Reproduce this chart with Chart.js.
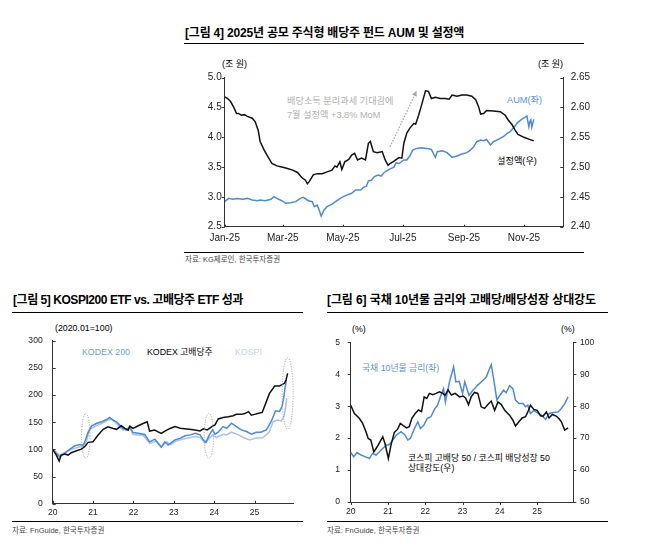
<!DOCTYPE html>
<html lang="ko">
<head>
<meta charset="utf-8">
<title>배당주 펀드 AUM / ETF 성과 / 상대강도</title>
<script src="https://cdn.jsdelivr.net/npm/chart.js@4.4.1/dist/chart.umd.min.js"></script>
<style>
    body { margin: 0; background: #fff; }
    #page {
        position: relative; width: 653px; height: 552px; overflow: hidden;
        font-family: "Liberation Sans", "Noto Sans CJK KR", sans-serif; color: #000;
    }
    .t { position: absolute; white-space: nowrap; line-height: 1; }
    .title { font-weight: bold; font-size: 12px; letter-spacing: -0.2px; }
    .rule { position: absolute; height: 0; border-top: 1.5px solid #000; }
    .rule.thin { border-top-width: 1px; }
    .src { font-size: 7.5px; color: #444; }
    canvas { position: absolute; }
</style>
</head>
<body>
<div id="page">
    <!-- 그림 4 -->
    <div class="t title" style="left:185px; top:27px;">[그림 4] 2025년 공모 주식형 배당주 펀드 AUM 및 설정액</div>
    <div class="rule" style="left:184px; width:400px; top:43px;"></div>
    <div class="t" style="left:222px; top:60px; font-size:9px;">(조 원)</div>
    <div class="t" style="left:538px; top:60px; font-size:9px;">(조 원)</div>
    <div class="t" style="left:287px; top:97px; font-size:9.2px; color:#b0b0b0;">배당소득 분리과세 기대감에</div>
    <div class="t" style="left:287px; top:111px; font-size:9.2px; color:#b0b0b0;">7월 설정액 +3.8% MoM</div>
    <div class="t" style="left:507px; top:95.5px; font-size:9.2px; color:#5b93d6;">AUM(좌)</div>
    <div class="t" style="left:497px; top:157px; font-size:9.2px;">설정액(우)</div>
    <div class="rule thin" style="left:184px; width:400px; top:252px;"></div>
    <div class="t src" style="left:185px; top:256px;">자료: KG제로인, 한국투자증권</div>
    <canvas id="fundChart" width="420" height="180" style="left:180px; top:70px;"></canvas>

    <!-- 그림 5 -->
    <div class="t title" style="left:13px; top:294px; letter-spacing:-0.45px;">[그림 5] KOSPI200 ETF vs. 고배당주 ETF 성과</div>
    <div class="rule" style="left:12px; width:291px; top:312px;"></div>
    <div class="t" style="left:55px; top:324px; font-size:8.8px;">(2020.01=100)</div>
    <div class="t" style="left:82px; top:348px; font-size:8.8px; color:#6e9fdc;">KODEX 200</div>
    <div class="t" style="left:147px; top:348px; font-size:8.8px;">KODEX 고배당주</div>
    <div class="t" style="left:235px; top:348px; font-size:8.8px; color:#c2d4ef;">KOSPI</div>
    <div class="rule thin" style="left:12px; width:291px; top:521px;"></div>
    <div class="t src" style="left:12px; top:527px;">자료: FnGuide, 한국투자증권</div>
    <canvas id="etfChart" width="310" height="200" style="left:0px; top:320px;"></canvas>

    <!-- 그림 6 -->
    <div class="t title" style="left:327px; top:294px; letter-spacing:-0.1px;">[그림 6] 국채 10년물 금리와 고배당/배당성장 상대강도</div>
    <div class="rule" style="left:327px; width:281px; top:312px;"></div>
    <div class="t" style="left:352px; top:325px; font-size:8.8px;">(%)</div>
    <div class="t" style="left:561px; top:325px; font-size:8.8px;">(%)</div>
    <div class="t" style="left:362px; top:364px; font-size:8.8px; color:#5b93d6;">국채 10년물 금리(좌)</div>
    <div class="t" style="left:408px; top:454px; font-size:8.8px;">코스피 고배당 50 / 코스피 배당성장 50</div>
    <div class="t" style="left:408px; top:464px; font-size:8.8px;">상대강도(우)</div>
    <div class="rule thin" style="left:327px; width:281px; top:521px;"></div>
    <div class="t src" style="left:327px; top:527px;">자료: FnGuide, 한국투자증권</div>
    <canvas id="rateChart" width="290" height="200" style="left:315px; top:320px;"></canvas>
</div>

<script>
// ---- 그림 4 : 2025년 일자 (1월 1일 = 0) ----
const monthTickDays = [0, 59, 120, 181, 243, 304];
const monthTickLabels = ['Jan-25', 'Mar-25', 'May-25', 'Jul-25', 'Sep-25', 'Nov-25'];
const aumTicks = [2.5, 3.0, 3.5, 4.0, 4.5, 5.0];
const flowTicks = [2.40, 2.45, 2.50, 2.55, 2.60, 2.65];

// 설정액 (우, 조 원)
const flowDays = [0,3,6,9,12,14,17,20,23,28,31,34,36,40,43,48,53,58,63,69,74,78,82,84,86,90,94,99,104,109,112,114,117,119,122,126,129,132,135,139,143,146,148,151,155,160,163,166,168,172,177,180,182,185,188,192,194,197,200,204,207,210,214,219,224,228,231,236,241,246,251,255,258,260,263,266,273,280,285,288,292,295,298,304,309,314];
const flowValues = [2.618,2.615,2.610,2.601,2.590,2.590,2.587,2.588,2.585,2.582,2.576,2.562,2.543,2.529,2.520,2.506,2.502,2.500,2.498,2.495,2.491,2.483,2.478,2.472,2.476,2.487,2.489,2.489,2.492,2.495,2.502,2.500,2.509,2.496,2.509,2.513,2.520,2.523,2.512,2.515,2.512,2.540,2.543,2.526,2.524,2.526,2.512,2.503,2.506,2.510,2.516,2.515,2.540,2.557,2.565,2.573,2.572,2.587,2.604,2.628,2.627,2.615,2.617,2.615,2.615,2.614,2.621,2.619,2.621,2.621,2.619,2.613,2.601,2.589,2.590,2.595,2.594,2.593,2.587,2.579,2.571,2.562,2.555,2.550,2.547,2.544];

// AUM (좌, 조 원)
const aumDays = [0,4,8,13,18,23,28,33,36,41,47,50,53,58,62,67,72,77,80,85,89,91,94,96,98,101,104,109,114,119,124,129,133,138,141,144,146,149,152,156,159,162,165,168,172,174,177,182,185,188,191,195,200,205,210,214,216,221,226,231,236,241,246,249,253,256,260,263,266,270,273,278,283,287,290,293,297,300,303,305,307,309,310,311,312,314];
const aumValues = [2.92,2.975,2.959,2.975,2.959,2.975,2.947,2.936,2.947,2.936,2.959,3.003,2.975,2.936,2.892,2.903,2.92,2.975,2.992,2.936,2.92,2.836,2.864,2.78,2.68,2.78,2.836,2.88,2.936,2.992,3.03,3.06,3.115,3.115,3.16,3.18,3.27,3.28,3.34,3.367,3.35,3.41,3.44,3.47,3.5,3.57,3.56,3.62,3.62,3.686,3.786,3.814,3.826,3.814,3.797,3.663,3.758,3.775,3.742,3.663,3.686,3.72,3.742,3.775,3.842,3.926,3.954,3.943,3.965,3.87,3.926,3.965,4.01,4.066,4.094,4.15,4.234,4.279,4.318,4.334,4.357,4.178,4.262,4.29,4.167,4.3];

// ---- 그림 5 / 6 : 2020년 1월 = 0 (년 단위) ----
const yearTickValues = [0, 1, 2, 3, 4, 5];
const yearTickLabels = ['20', '21', '22', '23', '24', '25'];
const etfTicks = [0, 50, 100, 150, 200, 250, 300];

const highDivYears = [0,0.09,0.16,0.21,0.30,0.38,0.46,0.59,0.71,0.79,0.88,1.0,1.12,1.25,1.37,1.50,1.58,1.70,1.79,1.87,1.91,1.99,2.12,2.24,2.34,2.40,2.53,2.61,2.69,2.78,2.86,2.92,3.03,3.16,3.32,3.49,3.65,3.73,3.83,3.94,4.02,4.10,4.22,4.35,4.47,4.55,4.67,4.76,4.85,4.92,5.0,5.08,5.19,5.29,5.37,5.50,5.62,5.74,5.78,5.82];
const highDivValues = [100,89.6,78.6,89.6,91.4,89.6,94,97.6,100.6,105,113,114,126,137,141.6,138.6,137,143.5,138.6,135.5,142.8,138.6,143.5,147.7,150.8,133.7,135.5,132.4,129.4,133.7,137,139,142,139,137.8,136,134,137.8,136,142,145,156,158.6,160,162,164.5,164.5,166,169.6,163,164.5,166,168,187.5,203,216.7,216.7,221.6,227.7,240];

const kodex200Years = [0,0.09,0.17,0.30,0.42,0.55,0.67,0.74,0.79,0.88,0.96,1.08,1.21,1.33,1.41,1.50,1.58,1.66,1.74,1.83,1.91,1.99,2.16,2.28,2.40,2.53,2.61,2.69,2.78,2.86,2.92,3.03,3.16,3.28,3.41,3.53,3.65,3.73,3.80,3.88,3.96,4.02,4.10,4.22,4.31,4.43,4.55,4.67,4.80,4.92,5.04,5.16,5.29,5.41,5.52,5.62,5.68,5.72,5.76,5.79];
const kodex200Values = [100,92.7,86.5,92.7,100,106.7,109,108,112.8,132,142.8,147.7,150.8,155,158.7,153.9,150.8,144.7,138.6,135.5,141.6,131,129.4,127.5,114,119,111,104,114,108,111.5,117.6,120.7,125,126.8,129.9,126.8,117.6,113.3,126.8,136,128,131.7,142,139,148.4,142,136,133,128,131.7,131.7,136,151,171,170,179,194,215.7,228];

const kospiYears = [0,0.17,0.42,0.67,0.75,0.83,0.92,1.08,1.21,1.37,1.45,1.58,1.74,1.91,1.99,2.24,2.40,2.57,2.69,2.82,2.92,3.03,3.16,3.41,3.53,3.65,3.77,3.88,3.96,4.06,4.22,4.31,4.43,4.60,4.72,4.88,5.00,5.21,5.36,5.46,5.58,5.66,5.74,5.80];
const kospiValues = [100,89.6,99,105,105,114,137,143.5,147.7,154,155.6,147.7,135.5,140,127.5,126,111,116,104.9,114,108.4,114.5,117.6,121.9,123.8,121.9,111.5,120.7,126.8,121.9,128,126.8,131.7,126.8,121.9,117.6,120.7,121.9,131.7,151,154,152,163,194];

const bondTicks = [0, 1, 2, 3, 4, 5];
const relTicks = [50, 60, 70, 80, 90, 100];

// 국채 10년물 금리 (좌, %)
const bondYears = [0,0.08,0.17,0.28,0.38,0.5,0.59,0.68,0.81,0.95,1.04,1.13,1.22,1.35,1.46,1.53,1.6,1.71,1.8,1.87,1.96,2.05,2.15,2.26,2.33,2.42,2.49,2.54,2.65,2.76,2.82,2.91,3.0,3.06,3.17,3.28,3.41,3.55,3.64,3.71,3.77,3.84,3.92,4.01,4.1,4.17,4.26,4.35,4.42,4.51,4.62,4.69,4.75,4.82,4.91,5.0,5.11,5.23,5.32,5.43,5.56,5.65,5.74,5.83];
const bondValues = [1.55,1.42,1.55,1.47,1.42,1.36,1.52,1.47,1.62,1.78,1.8,1.94,2.09,2.2,2.09,1.94,1.99,2.3,2.51,2.3,2.4,2.61,2.67,2.93,3.03,3.34,3.55,3.13,3.76,4.23,3.76,3.78,3.4,3.76,3.34,3.5,3.66,3.81,3.92,4.13,4.3,3.81,3.19,3.36,3.5,3.42,3.64,3.55,3.19,3.08,3.08,2.98,3.03,2.77,2.87,2.8,2.72,2.59,2.77,2.8,2.82,2.93,3.08,3.29];

// 고배당 50 / 배당성장 50 상대강도 (우, %)
const relYears = [0,0.1,0.23,0.32,0.41,0.47,0.54,0.62,0.71,0.81,0.86,0.92,1.01,1.08,1.17,1.26,1.33,1.41,1.5,1.57,1.64,1.73,1.82,1.9,1.97,2.04,2.11,2.2,2.29,2.38,2.47,2.53,2.61,2.7,2.8,2.92,3.01,3.08,3.16,3.23,3.32,3.41,3.5,3.59,3.68,3.77,3.86,3.95,4.04,4.13,4.26,4.35,4.42,4.51,4.6,4.69,4.75,4.82,4.91,5.0,5.09,5.16,5.25,5.32,5.41,5.51,5.6,5.65,5.74,5.83];
const relValues = [80.3,77.7,76.2,74.6,72,69.9,69.4,65.7,67.3,69.4,70.4,68.3,63.6,67.8,71.8,72.8,74.6,73.9,73.2,73.6,76.2,77.7,78.8,78.3,82.9,82.4,84,83.6,84,84.5,84,83.4,85.1,83.5,84,82.9,83.2,82.6,80.5,82.9,84.3,84,79.8,79.3,80.5,81.6,78.7,81.3,80.5,78.7,77.2,75.6,73.8,75.1,76.3,76.7,78.2,80.3,79,78.7,77,76.9,78.2,76.3,77.4,76.9,75.9,75.1,72.5,73.2];

const FONT = '"Liberation Sans", "Noto Sans CJK KR", sans-serif';
const BLUE = '#4f8ad2';
const AXIS = '#333';

function points(xs, ys) {
    return xs.map((x, i) => ({ x: x, y: ys[i] }));
}

function line(data, color, axis, order) {
    return {
        data: data, yAxisID: axis, order: order,
        borderColor: color, borderWidth: 1.5,
        pointRadius: 0, tension: 0, fill: false
    };
}

// 축 하나: 고정 크기, 지정된 눈금만
function axis(opts) {
    return {
        type: 'linear',
        position: opts.position,
        min: opts.min, max: opts.max,
        grid: { display: false, drawTicks: false },
        border: { display: true, color: AXIS, width: 1 },
        afterBuildTicks: s => { s.ticks = opts.ticks.map(v => ({ value: v })); },
        afterFit: s => {
            if (opts.position === 'bottom') s.height = opts.size; else s.width = opts.size;
            // 라벨 여백 때문에 플롯 영역이 밀리지 않도록
            s.paddingTop = 0; s.paddingBottom = 0; s.paddingLeft = 0; s.paddingRight = 0;
        },
        ticks: {
            autoSkip: false, maxRotation: 0, padding: opts.padding,
            color: '#222', font: { family: FONT, size: opts.fontSize },
            callback: opts.label
        }
    };
}

// 눈금 표시 (양수 = 안쪽, 음수 = 바깥쪽)
function tickMarks(lengths) {
    return {
        id: 'tickMarks',
        afterDatasetsDraw(chart) {
            const ctx = chart.ctx;
            ctx.save();
            ctx.strokeStyle = AXIS;
            ctx.lineWidth = 1;
            Object.keys(lengths).forEach(id => {
                const s = chart.scales[id];
                const len = lengths[id];
                s.ticks.forEach(t => {
                    const p = Math.round(s.getPixelForValue(t.value)) + 0.5;
                    ctx.beginPath();
                    if (s.isHorizontal()) {
                        ctx.moveTo(p, s.top); ctx.lineTo(p, s.top - len);
                    } else if (s.position === 'left') {
                        ctx.moveTo(s.right, p); ctx.lineTo(s.right + len, p);
                    } else {
                        ctx.moveTo(s.left, p); ctx.lineTo(s.left - len, p);
                    }
                    ctx.stroke();
                });
            });
            ctx.restore();
        }
    };
}

function baseOptions(padding, scales) {
    return {
        responsive: false, animation: false,
        layout: { padding: padding },
        plugins: { legend: { display: false }, tooltip: { enabled: false } },
        scales: scales
    };
}

document.addEventListener('DOMContentLoaded', function () {

    // 그림 4: 점선 화살표
    const arrowNote = {
        id: 'arrowNote',
        afterDatasetsDraw(chart) {
            const x = chart.scales.x, y = chart.scales.y;
            const x0 = x.getPixelForValue(168), y0 = y.getPixelForValue(3.84);
            const x1 = x.getPixelForValue(195), y1 = y.getPixelForValue(4.78);
            const ang = Math.atan2(y1 - y0, x1 - x0);
            const ctx = chart.ctx;
            ctx.save();
            ctx.strokeStyle = '#a8a8a8';
            ctx.fillStyle = '#a8a8a8';
            ctx.lineWidth = 1.3;
            ctx.setLineDash([1.5, 1.5]);
            ctx.beginPath();
            ctx.moveTo(x0, y0);
            ctx.lineTo(x1 - 5 * Math.cos(ang), y1 - 5 * Math.sin(ang));
            ctx.stroke();
            ctx.setLineDash([]);
            ctx.beginPath();
            ctx.moveTo(x1, y1);
            ctx.lineTo(x1 - 6 * Math.cos(ang - 0.45), y1 - 6 * Math.sin(ang - 0.45));
            ctx.lineTo(x1 - 6 * Math.cos(ang + 0.45), y1 - 6 * Math.sin(ang + 0.45));
            ctx.closePath();
            ctx.fill();
            ctx.restore();
        }
    };

    new Chart(document.getElementById('fundChart'), {
        type: 'line',
        data: {
            datasets: [
                line(points(flowDays, flowValues), '#111', 'y1', 0),
                line(points(aumDays, aumValues), BLUE, 'y', 1)
            ]
        },
        options: baseOptions({ top: 7.7, left: 0, right: 0, bottom: 0 }, {
            x: axis({ position: 'bottom', min: 0, max: 344, ticks: monthTickDays, size: 23.3, padding: 5.6, fontSize: 10,
                label: v => monthTickLabels[monthTickDays.indexOf(v)] }),
            y: axis({ position: 'left', min: 2.5, max: 5.0, ticks: aumTicks, size: 44.7, padding: 3, fontSize: 10,
                label: v => v.toFixed(1) }),
            y1: axis({ position: 'right', min: 2.40, max: 2.65, ticks: flowTicks, size: 36.7, padding: 7.4, fontSize: 10,
                label: v => v.toFixed(2) })
        }),
        plugins: [tickMarks({ x: 2, y: -3, y1: 3 }), arrowNote]
    });

    // 그림 5: 점선 타원
    const ellipseNote = {
        id: 'ellipseNote',
        afterDatasetsDraw(chart) {
            const x = chart.scales.x, y = chart.scales.y;
            const ctx = chart.ctx;
            ctx.save();
            ctx.strokeStyle = '#9a9a9a';
            ctx.lineWidth = 1;
            ctx.setLineDash([1, 1.5]);
            [[0.82, 125, 4.2, 22.5], [3.87, 125, 4.7, 22.5], [5.82, 203, 5.5, 35.7]].forEach(e => {
                ctx.beginPath();
                ctx.ellipse(x.getPixelForValue(e[0]), y.getPixelForValue(e[1]), e[2], e[3], 0, 0, Math.PI * 2);
                ctx.stroke();
            });
            ctx.restore();
        }
    };

    new Chart(document.getElementById('etfChart'), {
        type: 'line',
        data: {
            datasets: [
                line(points(highDivYears, highDivValues), '#111', 'y', 0),
                line(points(kodex200Years, kodex200Values), BLUE, 'y', 1),
                line(points(kospiYears, kospiValues), '#a9c3ea', 'y', 2)
            ]
        },
        options: baseOptions({ top: 20.7, left: 0, right: 16.7, bottom: 0 }, {
            x: axis({ position: 'bottom', min: 0, max: 5.96, ticks: yearTickValues, size: 16.2, padding: 3.7, fontSize: 8.6,
                label: v => yearTickLabels[v] }),
            y: axis({ position: 'left', min: 0, max: 300, ticks: etfTicks, size: 52.7, padding: 10, fontSize: 8.6,
                label: v => String(v) })
        }),
        plugins: [tickMarks({ x: 3, y: 3 }), ellipseNote]
    });

    new Chart(document.getElementById('rateChart'), {
        type: 'line',
        data: {
            datasets: [
                line(points(relYears, relValues), '#111', 'y1', 0),
                line(points(bondYears, bondValues), BLUE, 'y', 1)
            ]
        },
        options: baseOptions({ top: 22.3, left: 0, right: 0, bottom: 0 }, {
            x: axis({ position: 'bottom', min: 0, max: 5.97, ticks: yearTickValues, size: 18, padding: 4.5, fontSize: 8.6,
                label: v => yearTickLabels[v] }),
            y: axis({ position: 'left', min: 0, max: 5, ticks: bondTicks, size: 35.7, padding: 10.7, fontSize: 8.6,
                label: v => String(v) }),
            y1: axis({ position: 'right', min: 50, max: 100, ticks: relTicks, size: 31.7, padding: 6.7, fontSize: 8.6,
                label: v => String(v) })
        }),
        plugins: [tickMarks({ x: -3, y: -3, y1: -3 })]
    });
});
</script>
</body>
</html>
